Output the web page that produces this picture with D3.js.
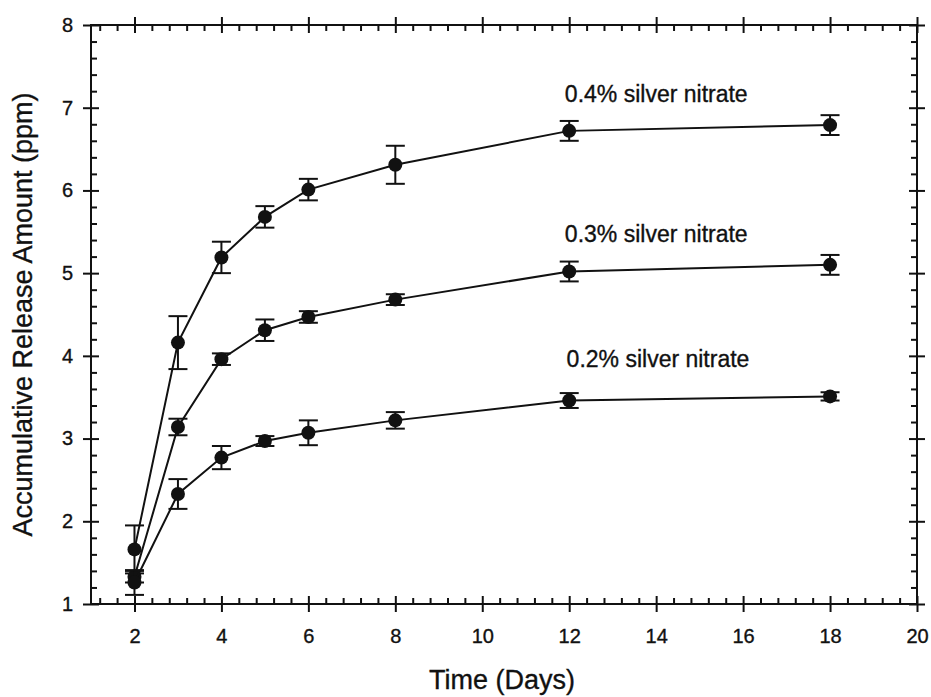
<!DOCTYPE html>
<html>
<head>
<meta charset="utf-8">
<script src="https://cdn.jsdelivr.net/npm/d3@7"></script>
<style>
  html, body { margin: 0; padding: 0; background: #fff; }
  svg { display: block; }
  text { font-family: "Liberation Sans", Arial, sans-serif; fill: #111; stroke: #111; stroke-width: 0.35px; }
</style>
</head>
<body>
<svg id="chart" width="931" height="697"></svg>
<script>
// ---- data ----
const days = [2, 3, 4, 5, 6, 8, 12, 18];
const series04 = [1.66, 4.16, 5.19, 5.68, 6.01, 6.31, 6.72, 6.79];
const err04    = [0.29, 0.32, 0.19, 0.13, 0.13, 0.23, 0.12, 0.12];
const series03 = [1.33, 3.14, 3.96, 4.31, 4.47, 4.68, 5.02, 5.10];
const err03    = [0.07, 0.10, 0.07, 0.13, 0.07, 0.065, 0.12, 0.12];
const series02 = [1.26, 2.33, 2.77, 2.97, 3.07, 3.22, 3.46, 3.51];
const err02    = [0.15, 0.18, 0.14, 0.06, 0.15, 0.10, 0.09, 0.05];
const seriesLabels = ["0.4% silver nitrate", "0.3% silver nitrate", "0.2% silver nitrate"];
const labelAnchors = [[11.9, 7.07], [11.9, 5.38], [11.94, 3.87]]; // [day, ppm] of label start
const xMajor = [2, 4, 6, 8, 10, 12, 14, 16, 18, 20];
const yMajor = [1, 2, 3, 4, 5, 6, 7, 8];
const xTitle = "Time (Days)";
const yTitle = "Accumulative Release Amount (ppm)";

// ---- scales ----
const x = d3.scaleLinear().domain([1, 20]).range([91, 917]);
const y = d3.scaleLinear().domain([1, 8]).range([604, 25]);

const xMinor = d3.range(1.2, 20.001, 0.4).map(v => +v.toFixed(1)).filter(v => Math.abs(v / 2 - Math.round(v / 2)) > 1e-6);
const yMinor = d3.range(1.2, 8.001, 0.2).map(v => +v.toFixed(1)).filter(v => Math.abs(v - Math.round(v)) > 1e-6);

const svg = d3.select("#chart");
const MAJ = 8, MIN = 6;

function styleAxis(g) {
  g.selectAll("path.domain").remove();
  g.selectAll("line").attr("stroke", "#111").attr("stroke-width", 2);
}

// bottom axis
const gB = svg.append("g").attr("transform", `translate(0,${y(1)})`)
  .call(d3.axisBottom(x).tickValues(xMajor).tickFormat(d3.format("d")).tickSize(MAJ).tickPadding(17));
gB.selectAll(".tick line").attr("y1", -MAJ);
gB.selectAll(".tick text").attr("font-size", 20).attr("font-family", "Liberation Sans, Arial, sans-serif").attr("fill", "#111");
styleAxis(gB);
const gBm = svg.append("g").attr("transform", `translate(0,${y(1)})`)
  .call(d3.axisBottom(x).tickValues(xMinor).tickFormat("").tickSize(-MIN));
styleAxis(gBm);

// top axis
const gT = svg.append("g").attr("transform", `translate(0,${y(8)})`)
  .call(d3.axisTop(x).tickValues(xMajor).tickFormat("").tickSize(MAJ));
gT.selectAll(".tick line").attr("y1", MAJ);
styleAxis(gT);
const gTm = svg.append("g").attr("transform", `translate(0,${y(8)})`)
  .call(d3.axisTop(x).tickValues(xMinor).tickFormat("").tickSize(-MIN));
styleAxis(gTm);

// left axis
const gL = svg.append("g").attr("transform", `translate(${x(1)},0)`)
  .call(d3.axisLeft(y).tickValues(yMajor).tickFormat(d3.format("d")).tickSize(MAJ).tickPadding(10));
gL.selectAll(".tick line").attr("x1", MAJ);
gL.selectAll(".tick text").attr("font-size", 20).attr("font-family", "Liberation Sans, Arial, sans-serif").attr("fill", "#111");
styleAxis(gL);
const gLm = svg.append("g").attr("transform", `translate(${x(1)},0)`)
  .call(d3.axisLeft(y).tickValues(yMinor).tickFormat("").tickSize(-MIN));
styleAxis(gLm);

// right axis
const gR = svg.append("g").attr("transform", `translate(${x(20)},0)`)
  .call(d3.axisRight(y).tickValues(yMajor).tickFormat("").tickSize(MAJ));
gR.selectAll(".tick line").attr("x1", -MAJ);
styleAxis(gR);
const gRm = svg.append("g").attr("transform", `translate(${x(20)},0)`)
  .call(d3.axisRight(y).tickValues(yMinor).tickFormat("").tickSize(-MIN));
styleAxis(gRm);

// frame
svg.append("rect")
  .attr("x", x(1)).attr("y", y(8))
  .attr("width", x(20) - x(1)).attr("height", y(1) - y(8))
  .attr("fill", "none").attr("stroke", "#111").attr("stroke-width", 2);

// series
const allSeries = [
  { vals: series04, errs: err04 },
  { vals: series03, errs: err03 },
  { vals: series02, errs: err02 }
];
const line = d3.line().x(d => x(d.d)).y(d => y(d.v));
const CAP = 9.5;

allSeries.forEach(s => {
  const pts = days.map((d, i) => ({ d, v: s.vals[i], e: s.errs[i] }));
  svg.append("path").datum(pts).attr("d", line)
    .attr("fill", "none").attr("stroke", "#111").attr("stroke-width", 2);
  const g = svg.append("g");
  const eb = g.selectAll("g.eb").data(pts).join("g").attr("class", "eb");
  eb.append("line").attr("x1", d => x(d.d)).attr("x2", d => x(d.d))
    .attr("y1", d => y(d.v + d.e)).attr("y2", d => y(d.v - d.e))
    .attr("stroke", "#111").attr("stroke-width", 2);
  eb.append("line").attr("x1", d => x(d.d) - CAP).attr("x2", d => x(d.d) + CAP)
    .attr("y1", d => y(d.v + d.e)).attr("y2", d => y(d.v + d.e))
    .attr("stroke", "#111").attr("stroke-width", 2);
  eb.append("line").attr("x1", d => x(d.d) - CAP).attr("x2", d => x(d.d) + CAP)
    .attr("y1", d => y(d.v - d.e)).attr("y2", d => y(d.v - d.e))
    .attr("stroke", "#111").attr("stroke-width", 2);
  g.selectAll("circle").data(pts).join("circle")
    .attr("cx", d => x(d.d)).attr("cy", d => y(d.v)).attr("r", 7)
    .attr("fill", "#111");
});

// series labels
svg.selectAll("text.slabel").data(seriesLabels).join("text")
  .attr("class", "slabel")
  .attr("x", (d, i) => x(labelAnchors[i][0]))
  .attr("y", (d, i) => y(labelAnchors[i][1]))
  .attr("font-size", 23)
  .text(d => d);

// axis titles
svg.append("text")
  .attr("x", (x(1) + x(20)) / 2 - 2).attr("y", 689)
  .attr("text-anchor", "middle").attr("font-size", 27)
  .text(xTitle);
svg.append("text")
  .attr("transform", `translate(32,${(y(1) + y(8)) / 2}) rotate(-90)`)
  .attr("text-anchor", "middle").attr("font-size", 27)
  .text(yTitle);
</script>
</body>
</html>
